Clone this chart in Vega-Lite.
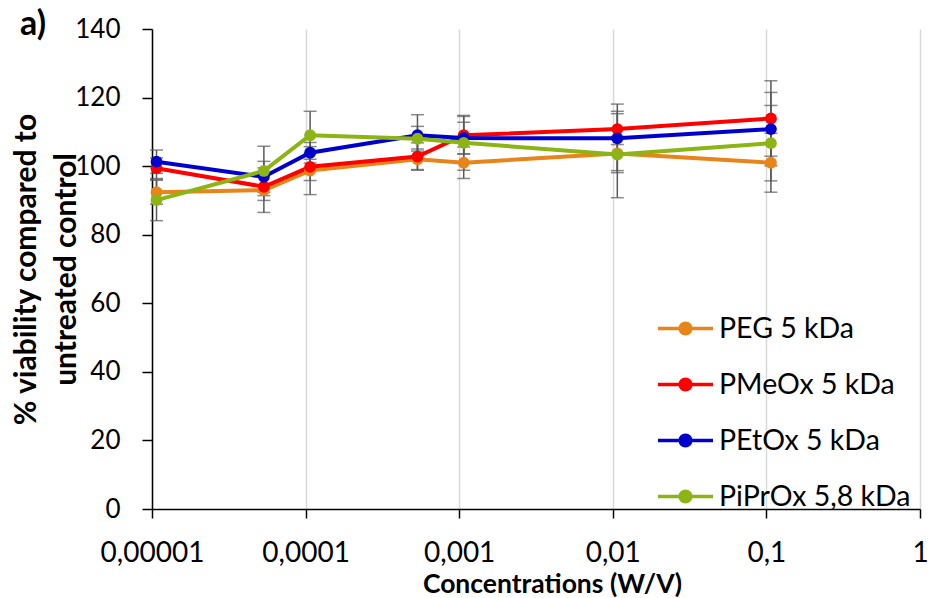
{
  "$schema": "https://vega.github.io/schema/vega-lite/v6.json",
  "width": 768,
  "height": 480,
  "autosize": {"type": "none"},
  "padding": {"left": 152, "top": 29, "right": 10, "bottom": 89},
  "background": "white",
  "config": {
    "font": "Lato",
    "view": {"stroke": null},
    "title": {"fontSize": 34, "fontWeight": "bold", "font": "Lato", "color": "black"},
    "axis": {"labelFont": "Lato", "titleFont": "Lato", "labelColor": "black", "titleColor": "black"}
  },
  "title": {"text": "a)", "anchor": "start", "frame": "group", "dx": -132, "dy": 53, "offset": 0, "baseline": "alphabetic", "fontSize": 34, "fontWeight": "bold", "font": "Lato", "color": "black"},
  "data": {"values": [
    {"conc": 0.0000107, "series": "PEG 5 kDa", "v": 92.4, "lo": 88.9, "hi": 95.9},
    {"conc": 0.0000535, "series": "PEG 5 kDa", "v": 93.0, "lo": 86.5, "hi": 99.5},
    {"conc": 0.000107, "series": "PEG 5 kDa", "v": 98.7, "lo": 91.7, "hi": 105.7},
    {"conc": 0.000535, "series": "PEG 5 kDa", "v": 102.0, "lo": 99.0, "hi": 105.0},
    {"conc": 0.00107, "series": "PEG 5 kDa", "v": 101.0, "lo": 96.4, "hi": 105.6},
    {"conc": 0.0107, "series": "PEG 5 kDa", "v": 103.7, "lo": 98.7, "hi": 108.7},
    {"conc": 0.107, "series": "PEG 5 kDa", "v": 101.0, "lo": 92.4, "hi": 109.6},
    {"conc": 0.0000107, "series": "PMeOx 5 kDa", "v": 99.4, "lo": 96.4, "hi": 102.4},
    {"conc": 0.0000535, "series": "PMeOx 5 kDa", "v": 94.0, "lo": 90.0, "hi": 98.0},
    {"conc": 0.000107, "series": "PMeOx 5 kDa", "v": 99.8, "lo": 95.8, "hi": 103.8},
    {"conc": 0.000535, "series": "PMeOx 5 kDa", "v": 102.8, "lo": 98.8, "hi": 106.8},
    {"conc": 0.00107, "series": "PMeOx 5 kDa", "v": 109.0, "lo": 103.5, "hi": 114.5},
    {"conc": 0.0107, "series": "PMeOx 5 kDa", "v": 110.8, "lo": 106.3, "hi": 115.3},
    {"conc": 0.107, "series": "PMeOx 5 kDa", "v": 113.9, "lo": 102.9, "hi": 124.9},
    {"conc": 0.0000107, "series": "PEtOx 5 kDa", "v": 101.3, "lo": 97.9, "hi": 104.7},
    {"conc": 0.0000535, "series": "PEtOx 5 kDa", "v": 96.9, "lo": 92.4, "hi": 101.4},
    {"conc": 0.000107, "series": "PEtOx 5 kDa", "v": 103.9, "lo": 100.9, "hi": 106.9},
    {"conc": 0.000535, "series": "PEtOx 5 kDa", "v": 109.0, "lo": 103.0, "hi": 115.0},
    {"conc": 0.00107, "series": "PEtOx 5 kDa", "v": 108.2, "lo": 103.6, "hi": 112.8},
    {"conc": 0.0107, "series": "PEtOx 5 kDa", "v": 108.1, "lo": 98.1, "hi": 118.1},
    {"conc": 0.107, "series": "PEtOx 5 kDa", "v": 110.8, "lo": 100.1, "hi": 121.5},
    {"conc": 0.0000107, "series": "PiPrOx 5,8 kDa", "v": 90.1, "lo": 84.1, "hi": 96.1},
    {"conc": 0.0000535, "series": "PiPrOx 5,8 kDa", "v": 98.6, "lo": 91.4, "hi": 105.8},
    {"conc": 0.000107, "series": "PiPrOx 5,8 kDa", "v": 109.0, "lo": 102.0, "hi": 116.0},
    {"conc": 0.000535, "series": "PiPrOx 5,8 kDa", "v": 108.0, "lo": 104.4, "hi": 111.6},
    {"conc": 0.00107, "series": "PiPrOx 5,8 kDa", "v": 106.8, "lo": 98.8, "hi": 114.8},
    {"conc": 0.0107, "series": "PiPrOx 5,8 kDa", "v": 103.4, "lo": 90.8, "hi": 116.0},
    {"conc": 0.107, "series": "PiPrOx 5,8 kDa", "v": 106.7, "lo": 95.7, "hi": 117.7}
  ]},
  "encoding": {
    "x": {
      "field": "conc", "type": "quantitative",
      "scale": {"type": "log", "domain": [0.00001, 1], "nice": false},
      "axis": {
        "values": [0.00001, 0.0001, 0.001, 0.01, 0.1, 1],
        "labelExpr": "replace(toString(datum.value), '.', ',')",
        "title": "Concentrations (W/V)",
        "titleFontSize": 26.5, "titleFontWeight": "bold",
        "titleBaseline": "alphabetic", "titleX": 400, "titleY": 83,
        "labelFontSize": 28, "labelBaseline": "alphabetic", "labelPadding": 43,
        "grid": true, "gridColor": "#D9D9D9", "gridWidth": 1.5,
        "domainColor": "black", "domainWidth": 1.5,
        "tickColor": "black", "tickWidth": 1.5, "tickSize": 9,
        "labelOverlap": false, "labelFlush": false
      }
    },
    "y": {
      "field": "v", "type": "quantitative",
      "scale": {"domain": [0, 140], "nice": false},
      "axis": {
        "values": [0, 20, 40, 60, 80, 100, 120, 140],
        "title": ["% viability compared to", "untreated control"],
        "titleFontSize": 30, "titleFontWeight": "bold",
        "titleBaseline": "alphabetic", "titleX": -117, "titleLineHeight": 40,
        "labelFontSize": 26, "labelPadding": 22,
        "grid": false,
        "domainColor": "black", "domainWidth": 1.5,
        "tickColor": "black", "tickWidth": 1.5, "tickSize": 10
      }
    },
    "color": {
      "field": "series", "type": "nominal",
      "scale": {"domain": ["PEG 5 kDa", "PMeOx 5 kDa", "PEtOx 5 kDa", "PiPrOx 5,8 kDa"], "range": ["#E8851A", "#FF0000", "#0000CC", "#8CB414"]},
      "legend": {
        "orient": "none", "legendX": 506, "legendY": 272,
        "title": null,
        "labelFont": "Lato", "labelFontSize": 28.5, "labelColor": "black", "labelOffset": 6, "labelLimit": 0,
        "symbolType": "M-1,-0.064L1,-0.064L1,0.064L-1,0.064Z M0.255,0A0.255,0.255,0,1,1,-0.255,0A0.255,0.255,0,1,1,0.255,0Z",
        "symbolSize": 3025, "symbolStrokeWidth": 0, "rowPadding": 14,
        "encode": {"symbols": {"update": {"fill": {"scale": "color", "field": "value"}, "fillOpacity": {"value": 1}, "strokeWidth": {"value": 0}}}}
      }
    }
  },
  "layer": [
    {
      "mark": {"type": "rule", "color": "#595959", "strokeWidth": 1.5},
      "encoding": {"y": {"field": "lo", "type": "quantitative"}, "y2": {"field": "hi"}, "color": {"value": "#595959"}}
    },
    {
      "mark": {"type": "tick", "orient": "horizontal", "color": "#595959", "size": 13, "thickness": 1.5},
      "encoding": {"y": {"field": "lo", "type": "quantitative"}, "color": {"value": "#595959"}}
    },
    {
      "mark": {"type": "tick", "orient": "horizontal", "color": "#595959", "size": 13, "thickness": 1.5},
      "encoding": {"y": {"field": "hi", "type": "quantitative"}, "color": {"value": "#595959"}}
    },
    {
      "mark": {"type": "line", "strokeWidth": 4}
    },
    {
      "mark": {"type": "point", "filled": true, "size": 140, "opacity": 1, "shape": "circle"}
    }
  ]
}
